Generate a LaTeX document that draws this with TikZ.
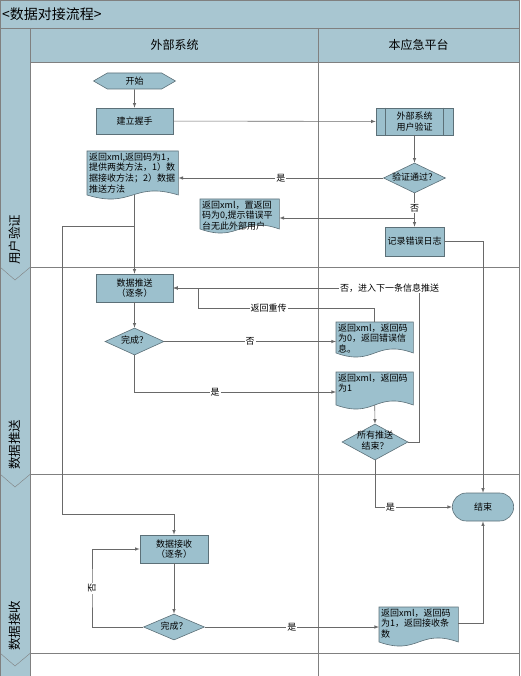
\documentclass[tikz,border=0pt]{standalone}
\usepackage{fontspec}
\setmainfont{Noto Sans CJK SC}
\usetikzlibrary{shapes.geometric,shapes.symbols,shapes.misc,calc,backgrounds}
\definecolor{lanefill}{RGB}{168,198,209}
\definecolor{boxfill}{RGB}{156,192,205}
\definecolor{boxline}{RGB}{92,112,120}
\definecolor{wirecol}{RGB}{105,105,105}
\definecolor{lanecol}{RGB}{128,128,128}
\newcommand\dtext[1]{\makebox[0pt]{\begin{tabular}{@{}c@{}}#1\end{tabular}}}
\newcommand\docbody[2]{%
  \begin{scope}[on background layer]
    \coordinate (#1-b) at ($(#1.north west)!.5!(#1.north east)+(0,#2)$);
    \draw[boxline, fill=boxfill, line width=.6pt] (#1.north west) -- (#1.north east)
      -- ($(#1.north east)+(0,#2)$) .. controls ($(#1-b)+(0,-14)$) and ($(#1-b)+(0,14)$)
      .. ($(#1.north west)+(0,#2)$) -- cycle;
  \end{scope}}
\begin{document}
\begin{tikzpicture}[x=1pt, y=-1pt, >=latex,
  every node/.style={font=\fontsize{9}{10.6}\selectfont},
  proc/.style={rectangle, draw=boxline, fill=boxfill, align=center, inner sep=1pt, line width=.6pt},
  dec/.style={diamond, draw=boxline, fill=boxfill, inner sep=0pt, line width=.6pt},
  docu/.style={anchor=north west, align=left, inner xsep=2pt, inner ysep=1.5pt},
  wire/.style={draw=wirecol, line width=.6pt},
  lbl/.style={fill=white, inner sep=1pt},
  lanelbl/.style={font=\fontsize{12.5}{14}\selectfont, inner sep=1pt}]
\useasboundingbox (0,0) rectangle (521,676);
% lanes
\fill[lanefill] (0,0) rectangle (519,28);
\fill[lanefill] (30.5,28) rectangle (519,62);
\fill[lanefill] (0,28) rectangle (30.5,676);
\draw[lanecol] (0.5,676) -- (0.5,0.5) -- (519,0.5) -- (519,676);
\draw[lanecol] (0,28) -- (519,28);
\draw[lanecol] (30.5,28) -- (30.5,676);
\draw[lanecol] (318,28) -- (318,676);
\foreach \yb in {62,267,474,653}
{
    \draw[lanecol] (30.5,\yb) -- (519,\yb);
}
\foreach \yb in {267,474,653}
{
    \draw[lanecol] (0,\yb) -- (15,{\yb+13}) -- (30.5,\yb);
}
\node[anchor=west, font=\fontsize{14}{16}\selectfont, inner sep=1pt] (title) at (1,14) {<数据对接流程>};
\node[font=\fontsize{12}{14}\selectfont] (hext) at (174.5,45) {外部系统};
\node[font=\fontsize{12}{14}\selectfont] (hself) at (418.5,45) {本应急平台};
\node[lanelbl, anchor=west, rotate=90] (lverify) at (15,266) {用户验证};
\node[lanelbl, anchor=west, rotate=90] (lpush) at (15,471) {数据推送};
\node[lanelbl, anchor=west, rotate=90] (lrecv) at (15,652) {数据接收};
% steps
\node[signal, signal to=east and west, signal pointer angle=60, draw=boxline, fill=boxfill,
  minimum width=82pt, minimum height=16pt, inner sep=0pt, line width=.6pt] (start) at (134.5,81) {开始};
\node[proc, minimum width=77pt, minimum height=26pt] (hand) at (134.5,121) {建立握手};
\node[proc, minimum width=77pt, minimum height=27pt] (verify) at (414.5,121.5) {外部系统\\用户验证};
\draw[boxline, line width=.6pt] ([xshift=10pt]verify.north west) -- ([xshift=10pt]verify.south west);
\draw[boxline, line width=.6pt] ([xshift=-10pt]verify.north east) -- ([xshift=-10pt]verify.south east);
\node[dec, minimum width=62pt, minimum height=30pt] (pass) at (414.5,178) {\dtext{验证通过？}};
\node[proc, minimum width=59pt, minimum height=29pt] (log) at (414.5,241.5) {记录错误日志};
\node[docu, text width=87pt] (doc1) at (87,151) {返回xml,返回码为1，\\提供两类方法，1）数\\据接收方法；2）数据\\推送方法};
\docbody{doc1}{44}
\node[docu, text width=75pt] (doc2) at (200,199) {返回xml，置返回\\码为0,提示错误平\\台无此外部用户};
\docbody{doc2}{30}
\node[proc, minimum width=77pt, minimum height=28pt] (dpush) at (134.5,288) {数据推送\\（逐条）};
\node[dec, minimum width=59pt, minimum height=27pt] (done1) at (134.5,341.5) {\dtext{完成？}};
\node[docu, text width=73pt] (doc3) at (336,322) {返回xml，返回码\\为0，返回错误信\\息。};
\docbody{doc3}{31}
\node[docu, text width=73pt] (doc4) at (336,372) {返回xml，返回码\\为1};
\docbody{doc4}{33}
\node[dec, minimum width=66pt, minimum height=36pt] (alldone) at (375,442) {\dtext{所有推送\\结束？}};
\node[rounded rectangle, draw=boxline, fill=boxfill, minimum width=68pt, minimum height=28pt, line width=.6pt] (end) at (483,507) {结束};
\node[proc, minimum width=68pt, minimum height=28pt] (drecv) at (174,549) {数据接收\\（逐条）};
\node[dec, minimum width=61pt, minimum height=26pt] (done2) at (174,627) {\dtext{完成？}};
\node[docu, text width=75pt] (doc5) at (379,607) {返回xml，返回码\\为1，返回接收条\\数};
\docbody{doc5}{35}
% connectors
\coordinate (br1) at (414.5,218);
\coordinate (br2) at (134.5,226);
\coordinate (c2) at (62,514);
\coordinate (r1) at (198,308);
\coordinate (r2) at (419,288);
\coordinate (in4) at (336,392);
\coordinate (c3) at (92,588);
\draw[wire, ->] (start) -- (hand);
\draw[wire, ->] (hand) -- (verify);
\draw[wire, ->] (verify) -- (pass);
\draw[wire, ->] (pass.west) -- (pass.west -| doc1.east) node[midway, lbl] {是};
\draw[wire, ->] (pass) -- (log) node[pos=.45, lbl] {否};
\draw[wire, ->] (br1) -- (br1 -| doc2.east);
\draw[wire, ->] (log.east) -| (end.north);
\draw[wire, ->] (doc1-b -| dpush.north) -- (dpush.north);
\draw[wire, ->] (br2) -| (c2) -| (drecv.north);
\draw[wire, ->] (dpush) -- (done1);
\draw[wire, ->] (done1.east) -- (done1.east -| doc3.west) node[midway, lbl] {否};
\draw[wire, ->] (done1.south) |- (in4) node[pos=.7, lbl] {是};
\draw[wire, ->] (doc3.north) |- (r1) node[pos=.8, lbl] {返回重传} |- (dpush.east);
\draw[wire, ->] (doc4-b) -- (alldone.north);
\draw[wire, ->] (alldone.east) -| (r2) -- (dpush.east) node[pos=.12, lbl] {否，进入下一条信息推送};
\draw[wire, ->] (alldone.south) |- (end.west) node[pos=.6, lbl] {是};
\draw[wire, ->] (drecv) -- (done2);
\draw[wire, ->] (done2.west) -| (c3) node[lbl, rotate=90] {否} |- (drecv.west);
\draw[wire, ->] (done2.east) -- (done2.east -| doc5.west) node[midway, lbl] {是};
\draw[wire, ->] (doc5.east) -| (end.south);
\end{tikzpicture}
\end{document}
